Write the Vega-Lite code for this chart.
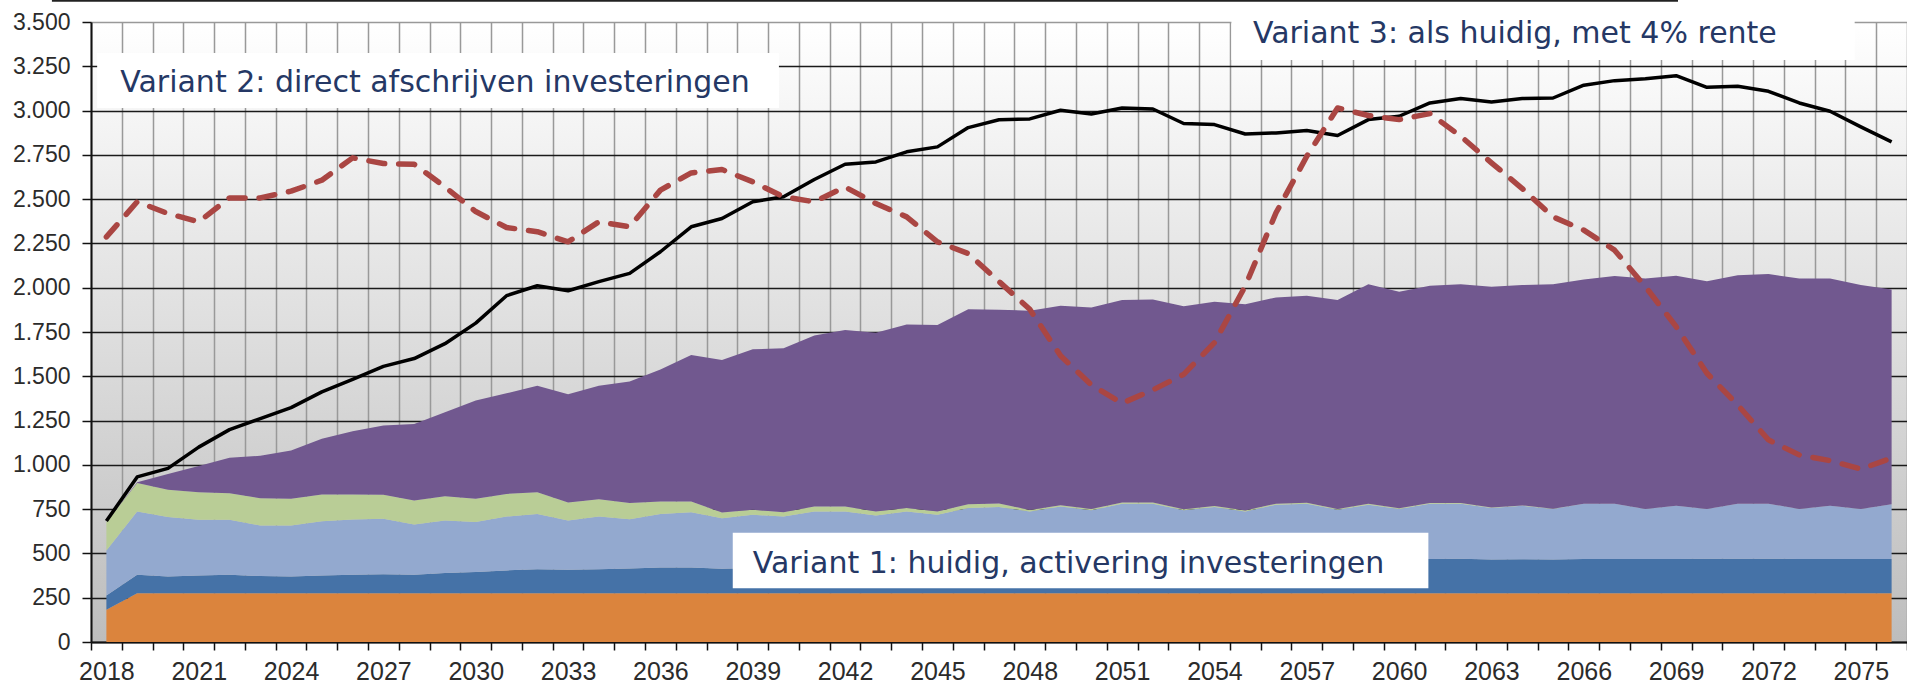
{
  "$schema": "https://vega.github.io/schema/vega-lite/v6.json",
  "width": 1816,
  "height": 620,
  "autosize": "none",
  "padding": {"left": 91, "top": 22, "right": 0, "bottom": 45},
  "background": "#ffffff",
  "config": {
    "view": {
      "stroke": null,
      "fill": {"gradient": "linear", "x1": 0, "y1": 0, "x2": 0, "y2": 1,
        "stops": [{"offset": 0, "color": "#ffffff"}, {"offset": 1, "color": "#bdbdbd"}]}
    }
  },
  "datasets": {
    "d": [
      {"jaar": 2018, "c1": 182, "c2": 81, "c3": 254, "c4": 160, "c5": 0, "v2": 2287, "v3": 683},
      {"jaar": 2019, "c1": 275, "c2": 105, "c3": 357, "c4": 160, "c5": 5, "v2": 2485, "v3": 932},
      {"jaar": 2020, "c1": 275, "c2": 95, "c3": 335, "c4": 154, "c5": 90, "v2": 2419, "v3": 980},
      {"jaar": 2021, "c1": 275, "c2": 101, "c3": 314, "c4": 156, "c5": 147, "v2": 2372, "v3": 1100},
      {"jaar": 2022, "c1": 275, "c2": 105, "c3": 310, "c4": 150, "c5": 200, "v2": 2507, "v3": 1199},
      {"jaar": 2023, "c1": 275, "c2": 97, "c3": 286, "c4": 154, "c5": 239, "v2": 2507, "v3": 1261},
      {"jaar": 2024, "c1": 275, "c2": 95, "c3": 288, "c4": 150, "c5": 273, "v2": 2545, "v3": 1323},
      {"jaar": 2025, "c1": 275, "c2": 101, "c3": 306, "c4": 151, "c5": 314, "v2": 2607, "v3": 1412},
      {"jaar": 2026, "c1": 275, "c2": 105, "c3": 312, "c4": 141, "c5": 357, "v2": 2733, "v3": 1483},
      {"jaar": 2027, "c1": 275, "c2": 107, "c3": 314, "c4": 135, "c5": 391, "v2": 2701, "v3": 1556},
      {"jaar": 2028, "c1": 275, "c2": 105, "c3": 284, "c4": 135, "c5": 432, "v2": 2697, "v3": 1600},
      {"jaar": 2029, "c1": 275, "c2": 114, "c3": 297, "c4": 137, "c5": 474, "v2": 2569, "v3": 1684},
      {"jaar": 2030, "c1": 275, "c2": 120, "c3": 282, "c4": 131, "c5": 555, "v2": 2430, "v3": 1800},
      {"jaar": 2031, "c1": 275, "c2": 129, "c3": 304, "c4": 128, "c5": 568, "v2": 2340, "v3": 1955},
      {"jaar": 2032, "c1": 275, "c2": 136, "c3": 311, "c4": 124, "c5": 600, "v2": 2316, "v3": 2011},
      {"jaar": 2033, "c1": 275, "c2": 133, "c3": 278, "c4": 101, "c5": 611, "v2": 2259, "v3": 1983},
      {"jaar": 2034, "c1": 275, "c2": 136, "c3": 297, "c4": 98, "c5": 640, "v2": 2372, "v3": 2034},
      {"jaar": 2035, "c1": 275, "c2": 140, "c3": 278, "c4": 91, "c5": 686, "v2": 2344, "v3": 2081},
      {"jaar": 2036, "c1": 275, "c2": 145, "c3": 303, "c4": 70, "c5": 746, "v2": 2551, "v3": 2203},
      {"jaar": 2037, "c1": 275, "c2": 145, "c3": 313, "c4": 60, "c5": 827, "v2": 2648, "v3": 2344},
      {"jaar": 2038, "c1": 275, "c2": 138, "c3": 286, "c4": 32, "c5": 861, "v2": 2667, "v3": 2391},
      {"jaar": 2039, "c1": 275, "c2": 143, "c3": 300, "c4": 28, "c5": 906, "v2": 2598, "v3": 2485},
      {"jaar": 2040, "c1": 275, "c2": 147, "c3": 286, "c4": 25, "c5": 925, "v2": 2513, "v3": 2513},
      {"jaar": 2041, "c1": 275, "c2": 150, "c3": 312, "c4": 28, "c5": 965, "v2": 2485, "v3": 2611},
      {"jaar": 2042, "c1": 275, "c2": 153, "c3": 309, "c4": 28, "c5": 996, "v2": 2569, "v3": 2697},
      {"jaar": 2043, "c1": 275, "c2": 155, "c3": 284, "c4": 23, "c5": 1009, "v2": 2475, "v3": 2710},
      {"jaar": 2044, "c1": 275, "c2": 158, "c3": 304, "c4": 19, "c5": 1037, "v2": 2400, "v3": 2767},
      {"jaar": 2045, "c1": 275, "c2": 161, "c3": 282, "c4": 19, "c5": 1052, "v2": 2259, "v3": 2795},
      {"jaar": 2046, "c1": 275, "c2": 165, "c3": 316, "c4": 22, "c5": 1100, "v2": 2193, "v3": 2904},
      {"jaar": 2047, "c1": 275, "c2": 168, "c3": 319, "c4": 20, "c5": 1094, "v2": 2035, "v3": 2948},
      {"jaar": 2048, "c1": 275, "c2": 171, "c3": 291, "c4": 8, "c5": 1125, "v2": 1878, "v3": 2953},
      {"jaar": 2049, "c1": 275, "c2": 174, "c3": 316, "c4": 7, "c5": 1126, "v2": 1616, "v3": 3002},
      {"jaar": 2050, "c1": 275, "c2": 177, "c3": 292, "c4": 7, "c5": 1138, "v2": 1451, "v3": 2981},
      {"jaar": 2051, "c1": 275, "c2": 180, "c3": 326, "c4": 7, "c5": 1142, "v2": 1348, "v3": 3015},
      {"jaar": 2052, "c1": 275, "c2": 182, "c3": 324, "c4": 7, "c5": 1146, "v2": 1423, "v3": 3009},
      {"jaar": 2053, "c1": 275, "c2": 184, "c3": 285, "c4": 6, "c5": 1146, "v2": 1511, "v3": 2927},
      {"jaar": 2054, "c1": 275, "c2": 186, "c3": 301, "c4": 6, "c5": 1153, "v2": 1690, "v3": 2921},
      {"jaar": 2055, "c1": 275, "c2": 188, "c3": 274, "c4": 6, "c5": 1163, "v2": 2009, "v3": 2868},
      {"jaar": 2056, "c1": 275, "c2": 190, "c3": 310, "c4": 6, "c5": 1164, "v2": 2423, "v3": 2874},
      {"jaar": 2057, "c1": 275, "c2": 191, "c3": 314, "c4": 6, "c5": 1169, "v2": 2742, "v3": 2887},
      {"jaar": 2058, "c1": 275, "c2": 192, "c3": 279, "c4": 5, "c5": 1179, "v2": 3015, "v3": 2859},
      {"jaar": 2059, "c1": 275, "c2": 192, "c3": 308, "c4": 5, "c5": 1239, "v2": 2972, "v3": 2949},
      {"jaar": 2060, "c1": 275, "c2": 193, "c3": 283, "c4": 4, "c5": 1222, "v2": 2949, "v3": 2968},
      {"jaar": 2061, "c1": 275, "c2": 193, "c3": 312, "c4": 4, "c5": 1227, "v2": 2983, "v3": 3043},
      {"jaar": 2062, "c1": 275, "c2": 195, "c3": 311, "c4": 4, "c5": 1234, "v2": 2855, "v3": 3068},
      {"jaar": 2063, "c1": 275, "c2": 191, "c3": 290, "c4": 3, "c5": 1246, "v2": 2705, "v3": 3049},
      {"jaar": 2064, "c1": 275, "c2": 192, "c3": 302, "c4": 2, "c5": 1244, "v2": 2560, "v3": 3068},
      {"jaar": 2065, "c1": 275, "c2": 191, "c3": 285, "c4": 1, "c5": 1268, "v2": 2400, "v3": 3071},
      {"jaar": 2066, "c1": 275, "c2": 193, "c3": 312, "c4": 0, "c5": 1266, "v2": 2325, "v3": 3143},
      {"jaar": 2067, "c1": 275, "c2": 194, "c3": 311, "c4": 0, "c5": 1286, "v2": 2212, "v3": 3169},
      {"jaar": 2068, "c1": 275, "c2": 193, "c3": 283, "c4": 0, "c5": 1301, "v2": 2006, "v3": 3180},
      {"jaar": 2069, "c1": 275, "c2": 194, "c3": 300, "c4": 0, "c5": 1298, "v2": 1780, "v3": 3197},
      {"jaar": 2070, "c1": 275, "c2": 195, "c3": 281, "c4": 0, "c5": 1286, "v2": 1517, "v3": 3131},
      {"jaar": 2071, "c1": 275, "c2": 195, "c3": 311, "c4": 0, "c5": 1290, "v2": 1338, "v3": 3137},
      {"jaar": 2072, "c1": 275, "c2": 195, "c3": 311, "c4": 0, "c5": 1296, "v2": 1141, "v3": 3109},
      {"jaar": 2073, "c1": 275, "c2": 194, "c3": 282, "c4": 0, "c5": 1301, "v2": 1056, "v3": 3043},
      {"jaar": 2074, "c1": 275, "c2": 194, "c3": 300, "c4": 0, "c5": 1283, "v2": 1024, "v3": 2996},
      {"jaar": 2075, "c1": 275, "c2": 194, "c3": 282, "c4": 0, "c5": 1264, "v2": 976, "v3": 2908},
      {"jaar": 2076, "c1": 275, "c2": 194, "c3": 309, "c4": 0, "c5": 1212, "v2": 1038, "v3": 2823}
    ]
  },
  "layer": [
    {
      "data": {"name": "d"},
      "transform": [{"fold": ["c1", "c2", "c3", "c4", "c5"], "as": ["serie", "waarde"]}],
      "mark": {"type": "area", "interpolate": "linear"},
      "encoding": {
        "x": {
          "field": "jaar", "type": "quantitative",
          "scale": {"domain": [2017.5, 2076.5], "nice": false, "zero": false},
          "axis": {
            "orient": "bottom", "title": null, "labels": false,
            "values": [2017.5, 2018.5, 2019.5, 2020.5, 2021.5, 2022.5, 2023.5, 2024.5, 2025.5, 2026.5, 2027.5, 2028.5, 2029.5, 2030.5, 2031.5, 2032.5, 2033.5, 2034.5, 2035.5, 2036.5, 2037.5, 2038.5, 2039.5, 2040.5, 2041.5, 2042.5, 2043.5, 2044.5, 2045.5, 2046.5, 2047.5, 2048.5, 2049.5, 2050.5, 2051.5, 2052.5, 2053.5, 2054.5, 2055.5, 2056.5, 2057.5, 2058.5, 2059.5, 2060.5, 2061.5, 2062.5, 2063.5, 2064.5, 2065.5, 2066.5, 2067.5, 2068.5, 2069.5, 2070.5, 2071.5, 2072.5, 2073.5, 2074.5, 2075.5, 2076.5],
            "grid": true, "gridColor": "#999999", "gridWidth": 1.5,
            "ticks": true, "tickSize": 8, "tickColor": "#111111", "tickWidth": 1.5,
            "domain": true, "domainColor": "#111111", "domainWidth": 2
          }
        },
        "y": {
          "field": "waarde", "type": "quantitative", "stack": "zero",
          "scale": {"domain": [0, 3500], "nice": false},
          "axis": {
            "orient": "left", "title": null,
            "values": [0, 250, 500, 750, 1000, 1250, 1500, 1750, 2000, 2250, 2500, 2750, 3000, 3250, 3500],
            "labelExpr": "replace(format(datum.value, ','), ',', '.')",
            "labelFont": "Liberation Sans", "labelFontSize": 23, "labelColor": "#2b2b2b",
            "labelPadding": 12,
            "grid": true,
            "gridColor": {"condition": {"test": "datum.value >= 3500", "value": "#999999"}, "value": "#1a1a1a"},
            "gridWidth": 1.6,
            "ticks": true, "tickSize": 9, "tickColor": "#111111", "tickWidth": 1.5,
            "domain": true, "domainColor": "#111111", "domainWidth": 2
          }
        },
        "color": {
          "field": "serie", "type": "nominal",
          "scale": {"domain": ["c1", "c2", "c3", "c4", "c5"], "range": ["#DB843D", "#4572A7", "#93A9CF", "#B9CD96", "#71588F"]},
          "legend": null
        },
        "order": {"field": "serie", "type": "ordinal", "sort": "ascending"}
      }
    },
    {
      "data": {"name": "d"},
      "mark": {"type": "line", "color": "#000000", "strokeWidth": 3.5, "strokeJoin": "round"},
      "encoding": {
        "x": {
          "field": "jaar", "type": "quantitative",
          "axis": {
            "orient": "bottom", "title": null, "format": "d",
            "values": [2018, 2021, 2024, 2027, 2030, 2033, 2036, 2039, 2042, 2045, 2048, 2051, 2054, 2057, 2060, 2063, 2066, 2069, 2072, 2075],
            "grid": false, "ticks": false, "domain": false,
            "labelFont": "Liberation Sans", "labelFontSize": 25, "labelColor": "#2b2b2b",
            "labelPadding": 17, "labelFlush": false, "labelOverlap": false
          }
        },
        "y": {"field": "v3", "type": "quantitative", "axis": null}
      }
    },
    {
      "data": {"name": "d"},
      "mark": {"type": "line", "color": "#AA4643", "strokeWidth": 5.5, "strokeDash": [16, 14], "strokeCap": "round", "strokeJoin": "round"},
      "encoding": {
        "x": {"field": "jaar", "type": "quantitative", "axis": null},
        "y": {"field": "v2", "type": "quantitative", "axis": null}
      }
    },
    {
      "data": {"values": [
        {"box": "Variant 2", "x1": 2017.7, "x2": 2039.85, "y1": 3015, "y2": 3325},
        {"box": "Variant 3", "x1": 2054.55, "x2": 2074.8, "y1": 3285, "y2": 3590},
        {"box": "Variant 1", "x1": 2038.35, "x2": 2060.95, "y1": 303, "y2": 617}
      ]},
      "mark": {"type": "rect", "color": "#ffffff"},
      "encoding": {
        "x": {"field": "x1", "type": "quantitative", "axis": null},
        "x2": {"field": "x2"},
        "y": {"field": "y1", "type": "quantitative", "axis": null},
        "y2": {"field": "y2"}
      }
    },
    {
      "data": {"values": [
        {"label": "Variant 2: direct afschrijven investeringen", "tx": 2018.45, "ty": 3107},
        {"label": "Variant 3: als huidig, met 4% rente", "tx": 2055.25, "ty": 3380},
        {"label": "Variant 1: huidig, activering investeringen", "tx": 2039.0, "ty": 391}
      ]},
      "mark": {"type": "text", "align": "left", "baseline": "alphabetic", "font": "DejaVu Sans", "fontSize": 30, "color": "#253865"},
      "encoding": {
        "x": {"field": "tx", "type": "quantitative", "axis": null},
        "y": {"field": "ty", "type": "quantitative", "axis": null},
        "text": {"field": "label"}
      }
    },
    {
      "data": {"values": [{"a": 2016.23, "b": 2069.06, "h": 3620}]},
      "mark": {"type": "rule", "color": "#222222", "strokeWidth": 2},
      "encoding": {
        "x": {"field": "a", "type": "quantitative", "axis": null},
        "x2": {"field": "b"},
        "y": {"field": "h", "type": "quantitative", "axis": null}
      }
    }
  ],
  "resolve": {"axis": {"x": "independent", "y": "independent"}}
}
